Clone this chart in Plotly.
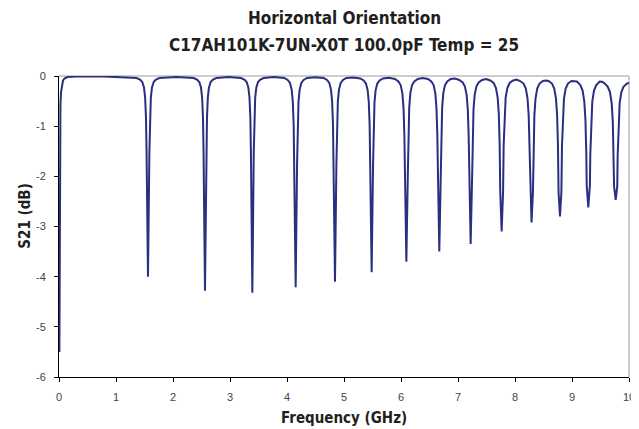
import plotly.graph_objects as go

# Frequency (GHz) and S21 (dB)
freq_ghz = [
    0.007, 0.010, 0.013, 0.018, 0.025, 0.035, 0.050, 0.070, 0.100, 0.150, 0.300, 0.800,
    1.361, 1.421, 1.461, 1.491, 1.511, 1.526, 1.536, 1.561, 1.586, 1.596, 1.611, 1.631, 1.661, 1.701, 1.761,
    2.061,
    2.361, 2.421, 2.461, 2.491, 2.511, 2.526, 2.536, 2.561, 2.586, 2.596, 2.611, 2.631, 2.661, 2.701, 2.761,
    2.977,
    3.192, 3.252, 3.292, 3.322, 3.342, 3.357, 3.367, 3.392, 3.417, 3.427, 3.442, 3.462, 3.492, 3.532, 3.592,
    3.772,
    3.952, 4.012, 4.052, 4.082, 4.102, 4.117, 4.127, 4.152, 4.177, 4.187, 4.202, 4.222, 4.252, 4.292, 4.352,
    4.497,
    4.642, 4.702, 4.742, 4.772, 4.792, 4.807, 4.817, 4.842, 4.867, 4.877, 4.892, 4.912, 4.942, 4.982, 5.042,
    5.164,
    5.285, 5.345, 5.385, 5.415, 5.435, 5.450, 5.460, 5.485, 5.510, 5.520, 5.535, 5.555, 5.585, 5.625, 5.685,
    5.790,
    5.894, 5.954, 5.994, 6.024, 6.044, 6.059, 6.069, 6.094, 6.119, 6.129, 6.144, 6.164, 6.194, 6.234, 6.294,
    6.383,
    6.472, 6.532, 6.572, 6.602, 6.622, 6.637, 6.647, 6.672, 6.697, 6.707, 6.722, 6.742, 6.772, 6.812, 6.872,
    6.947,
    7.022, 7.082, 7.122, 7.152, 7.172, 7.187, 7.197, 7.222, 7.247, 7.257, 7.272, 7.292, 7.322, 7.362, 7.422,
    7.494,
    7.566, 7.626, 7.666, 7.696, 7.716, 7.731, 7.741, 7.766, 7.791, 7.801, 7.816, 7.836, 7.866, 7.906, 7.966,
    8.028,
    8.090, 8.150, 8.190, 8.220, 8.240, 8.255, 8.265, 8.290, 8.315, 8.325, 8.340, 8.360, 8.390, 8.430, 8.490,
    8.540,
    8.589, 8.649, 8.689, 8.719, 8.739, 8.754, 8.764, 8.789, 8.814, 8.824, 8.839, 8.859, 8.889, 8.929, 8.989,
    9.038,
    9.086, 9.146, 9.186, 9.216, 9.236, 9.251, 9.258, 9.286, 9.314, 9.321, 9.336, 9.356, 9.386, 9.426, 9.486,
    9.526,
    9.566, 9.626, 9.666, 9.696, 9.716, 9.731, 9.738, 9.766, 9.794, 9.801, 9.816, 9.836, 9.866, 9.906, 9.966,
    10.000,
]

s21_db = [
    -5.50, -3.20, -2.00, -1.10, -0.60, -0.33, -0.17, -0.09, -0.045, -0.02, -0.01, -0.01,
    -0.04, -0.07, -0.12, -0.23, -0.43, -0.83, -1.50, -4.00, -1.50, -0.83, -0.43, -0.23, -0.12, -0.07, -0.04,
    -0.02,
    -0.04, -0.07, -0.12, -0.23, -0.43, -0.83, -1.50, -4.28, -1.50, -0.83, -0.43, -0.23, -0.12, -0.07, -0.04,
    -0.02,
    -0.04, -0.07, -0.12, -0.23, -0.43, -0.83, -1.50, -4.32, -1.50, -0.83, -0.43, -0.23, -0.12, -0.07, -0.04,
    -0.02,
    -0.04, -0.08, -0.14, -0.27, -0.51, -0.98, -1.74, -4.21, -1.74, -0.98, -0.51, -0.27, -0.14, -0.08, -0.04,
    -0.025,
    -0.04, -0.08, -0.14, -0.27, -0.51, -0.98, -1.74, -4.10, -1.74, -0.98, -0.51, -0.27, -0.14, -0.08, -0.04,
    -0.03,
    -0.05, -0.09, -0.15, -0.28, -0.52, -0.99, -1.75, -3.91, -1.75, -0.99, -0.52, -0.28, -0.15, -0.09, -0.05,
    -0.035,
    -0.06, -0.11, -0.18, -0.34, -0.63, -1.16, -2.02, -3.70, -2.02, -1.16, -0.63, -0.34, -0.18, -0.11, -0.06,
    -0.04,
    -0.06, -0.11, -0.18, -0.34, -0.63, -1.16, -2.02, -3.50, -2.02, -1.16, -0.63, -0.34, -0.18, -0.11, -0.06,
    -0.05,
    -0.08, -0.13, -0.21, -0.38, -0.67, -1.20, -2.05, -3.35, -2.05, -1.20, -0.67, -0.38, -0.21, -0.13, -0.08,
    -0.06,
    -0.09, -0.14, -0.24, -0.43, -0.76, -1.38, -2.30, -3.10, -2.30, -1.38, -0.76, -0.43, -0.24, -0.14, -0.09,
    -0.07,
    -0.10, -0.15, -0.25, -0.45, -0.78, -1.40, -2.31, -2.92, -2.31, -1.40, -0.78, -0.45, -0.25, -0.15, -0.10,
    -0.09,
    -0.10, -0.15, -0.25, -0.45, -0.78, -1.40, -2.31, -2.80, -2.31, -1.40, -0.78, -0.45, -0.25, -0.15, -0.10,
    -0.10,
    -0.11, -0.18, -0.29, -0.51, -0.88, -1.56, -2.18, -2.62, -2.18, -1.56, -0.88, -0.51, -0.29, -0.18, -0.11,
    -0.115,
    -0.14, -0.21, -0.32, -0.54, -0.91, -1.59, -2.20, -2.47, -2.20, -1.59, -0.91, -0.54, -0.32, -0.21, -0.15,
    -0.14,
]

x_ticks = [0, 1, 2, 3, 4, 5, 6, 7, 8, 9, 10]
y_ticks = [0, -1, -2, -3, -4, -5, -6]
y_tick_labels = ["0", "-1", "-2", "-3", "-4", "-5", "-6"]

title_lines = ["Horizontal Orientation", "C17AH101K-7UN-X0T 100.0pF Temp = 25"]
x_title = "Frequency (GHz)"
y_title = "S21 (dB)"

BOLD_FONT = "Liberation Sans Narrow, DejaVu Sans Condensed, Roboto Condensed, Liberation Sans, Arial"
TICK_FONT = "Liberation Sans, Arial, sans-serif"

fig = go.Figure()
fig.add_trace(go.Scatter(
    x=freq_ghz, y=s21_db, mode="lines",
    line=dict(color="#2a2f7f", width=2),
    showlegend=False, hoverinfo="skip",
))

# page body has an 8px margin, so the figure is sized/offset to keep the plot area
# at the reference position (x 59..629, y 76..377 in the window)
fig.update_layout(
    width=631, height=421,
    margin=dict(l=51, r=10, t=68, b=52, pad=0, autoexpand=False),
    paper_bgcolor="white", plot_bgcolor="white",
    showlegend=False,
    xaxis=dict(
        range=[0, 10], tickvals=x_ticks, ticktext=[str(v) for v in x_ticks],
        showline=True, linecolor="black", linewidth=1,
        ticks="outside", ticklen=4, tickcolor="black", tickwidth=1,
        showgrid=False, zeroline=False, automargin=False,
        tickfont=dict(family=TICK_FONT, size=11, color="#444444"),
        ticklabelstandoff=6,
    ),
    yaxis=dict(
        range=[-6, 0], tickvals=y_ticks, ticktext=y_tick_labels,
        showline=True, linecolor="black", linewidth=1,
        ticks="outside", ticklen=4, tickcolor="black", tickwidth=1,
        showgrid=False, zeroline=False, automargin=False,
        tickfont=dict(family=TICK_FONT, size=11, color="#444444"),
        ticklabelstandoff=6,
    ),
    shapes=[
        dict(type="line", xref="paper", yref="paper", x0=0, x1=1, y0=1, y1=1,
             line=dict(color="#bdbdbd", width=1.5), layer="below"),
        dict(type="line", xref="paper", yref="paper", x0=1, x1=1, y0=0, y1=1,
             line=dict(color="#bdbdbd", width=1.5), layer="below"),
    ],
    annotations=[
        dict(text="<b>%s</b>" % title_lines[0], xref="paper", yref="paper",
             x=0.5, y=1.1927, xanchor="center", yanchor="middle", showarrow=False,
             font=dict(family=BOLD_FONT, size=17, color="#231f20")),
        dict(text="<b>%s</b>" % title_lines[1], xref="paper", yref="paper",
             x=0.5, y=1.103, xanchor="center", yanchor="middle", showarrow=False,
             font=dict(family=BOLD_FONT, size=17, color="#231f20")),
        dict(text="<b>%s</b>" % x_title, xref="paper", yref="paper",
             x=0.5, y=-0.136, xanchor="center", yanchor="middle", showarrow=False,
             font=dict(family=BOLD_FONT, size=15, color="#231f20")),
        dict(text="<b>%s</b>" % y_title, xref="paper", yref="paper",
             x=-0.0602, y=0.535, xanchor="center", yanchor="middle", showarrow=False,
             textangle=-90,
             font=dict(family=BOLD_FONT, size=15, color="#231f20")),
    ],
)

fig.write_html("out.html")
